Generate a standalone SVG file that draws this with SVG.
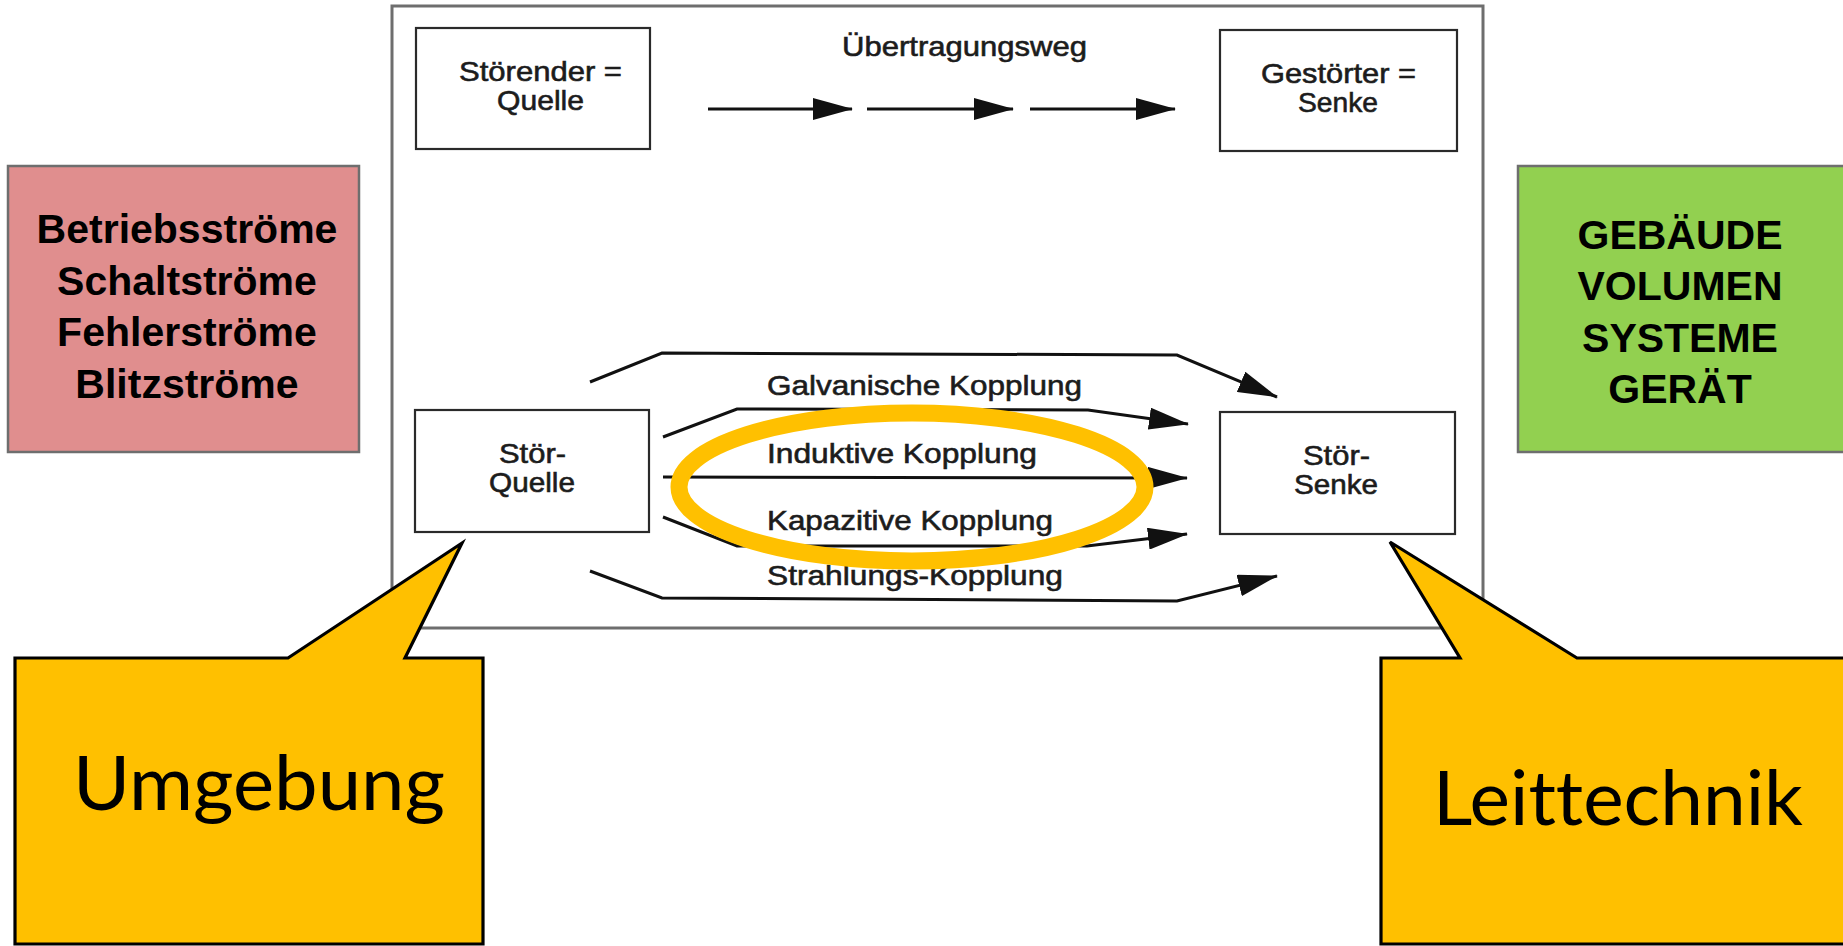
<svg xmlns="http://www.w3.org/2000/svg" width="1843" height="946" viewBox="0 0 1843 946">
<defs>
<style>
.scan{font-family:"Liberation Sans",Arial,sans-serif;font-size:28px;fill:#1c1c1c;stroke:#1c1c1c;stroke-width:0.6}
.sbox{fill:#fff;stroke:#2a2a2a;stroke-width:2.2}
.conn{fill:none;stroke:#111;stroke-width:3;marker-end:url(#ah)}
.side{font-family:"Liberation Sans",Arial,sans-serif;font-size:41px;font-weight:bold;fill:#000;text-anchor:middle}
.call{fill:#FFC000;stroke:#000;stroke-width:3.2;stroke-linejoin:miter}
.ctext{font-family:Lato,"Liberation Sans",sans-serif;font-size:75px;fill:#000;font-variant-ligatures:none}
</style>
<marker id="ah" markerUnits="userSpaceOnUse" markerWidth="40" markerHeight="22" viewBox="0 0 40 22" refX="39" refY="11" orient="auto">
<path d="M0,0 L40,11 L0,22 z" fill="#111"/>
</marker>
</defs>
<rect width="1843" height="946" fill="#fff"/>

<g id="frame">
<rect x="392" y="6" width="1091" height="622" fill="#fff" stroke="#6e6e6e" stroke-width="3"/>
</g>

<g id="stoerender-quelle">
<rect class="sbox" x="416" y="28" width="234" height="121"/>
<text class="scan" x="459" y="81" textLength="163" lengthAdjust="spacingAndGlyphs">Störender =</text>
<text class="scan" x="497" y="110" textLength="87" lengthAdjust="spacingAndGlyphs">Quelle</text>
</g>

<g id="uebertragungsweg">
<text class="scan" x="842" y="56" textLength="245" lengthAdjust="spacingAndGlyphs">Übertragungsweg</text>
</g>

<g id="gestoerter-senke">
<rect class="sbox" x="1220" y="30" width="237" height="121"/>
<text class="scan" x="1261" y="83" textLength="155" lengthAdjust="spacingAndGlyphs">Gestörter =</text>
<text class="scan" x="1298" y="112" textLength="80" lengthAdjust="spacingAndGlyphs">Senke</text>
</g>

<g id="stoer-quelle">
<rect class="sbox" x="415" y="410" width="234" height="122"/>
<text class="scan" x="499" y="463" textLength="67" lengthAdjust="spacingAndGlyphs">Stör-</text>
<text class="scan" x="489" y="492" textLength="86" lengthAdjust="spacingAndGlyphs">Quelle</text>
</g>

<g id="stoer-senke">
<rect class="sbox" x="1220" y="412" width="235" height="122"/>
<text class="scan" x="1303" y="465" textLength="67" lengthAdjust="spacingAndGlyphs">Stör-</text>
<text class="scan" x="1294" y="494" textLength="84" lengthAdjust="spacingAndGlyphs">Senke</text>
</g>

<g id="connectors">
<path class="conn" d="M708,109 L852,109"/>
<path class="conn" d="M867,109 L1013,109"/>
<path class="conn" d="M1030,109 L1175,109"/>
<path class="conn" d="M590,382 L662,353 L1177,355 L1277,397"/>
<path class="conn" d="M663,437 L737,409 L1088,410 L1188,424"/>
<path class="conn" d="M663,477 L1187,478"/>
<path class="conn" d="M663,517 L737,546 L1087,546 L1187,534"/>
<path class="conn" d="M590,571 L662,598 L1177,601 L1277,576"/>
</g>

<g id="kopplung-labels">
<text class="scan" x="767" y="395" textLength="315" lengthAdjust="spacingAndGlyphs">Galvanische Kopplung</text>
<text class="scan" x="767" y="463" textLength="270" lengthAdjust="spacingAndGlyphs">Induktive Kopplung</text>
<text class="scan" x="767" y="530" textLength="286" lengthAdjust="spacingAndGlyphs">Kapazitive Kopplung</text>
<text class="scan" x="767" y="585" textLength="296" lengthAdjust="spacingAndGlyphs">Strahlungs-Kopplung</text>
</g>

<g id="highlight-ellipse">
<ellipse cx="912" cy="487" rx="233" ry="74" fill="none" stroke="#FFC000" stroke-width="17"/>
</g>

<g id="stoerquellen-box">
<rect x="8" y="166" width="351" height="286" fill="#E08E8E" stroke="#6e6e6e" stroke-width="2.5"/>
<text class="side" x="187" y="243">Betriebsströme</text>
<text class="side" x="187" y="295">Schaltströme</text>
<text class="side" x="187" y="346">Fehlerströme</text>
<text class="side" x="187" y="398">Blitzströme</text>
</g>

<g id="stoersenken-box">
<rect x="1518" y="166" width="340" height="286" fill="#92D050" stroke="#6e6e6e" stroke-width="2.5"/>
<text class="side" x="1680" y="249">GEBÄUDE</text>
<text class="side" x="1680" y="300">VOLUMEN</text>
<text class="side" x="1680" y="352">SYSTEME</text>
<text class="side" x="1680" y="403">GERÄT</text>
</g>

<g id="callout-umgebung">
<path class="call" d="M15,658 L288,658 L462,543 L405,658 L483,658 L483,944 L15,944 z"/>
<text class="ctext" x="73" y="810" textLength="372" lengthAdjust="spacingAndGlyphs">Umgebung</text>
</g>

<g id="callout-leittechnik">
<path class="call" d="M1381,658 L1460,658 L1390,542 L1577,658 L1860,658 L1860,944 L1381,944 z"/>
<text class="ctext" x="1433" y="825" textLength="370" lengthAdjust="spacingAndGlyphs">Leittechnik</text>
</g>
</svg>
